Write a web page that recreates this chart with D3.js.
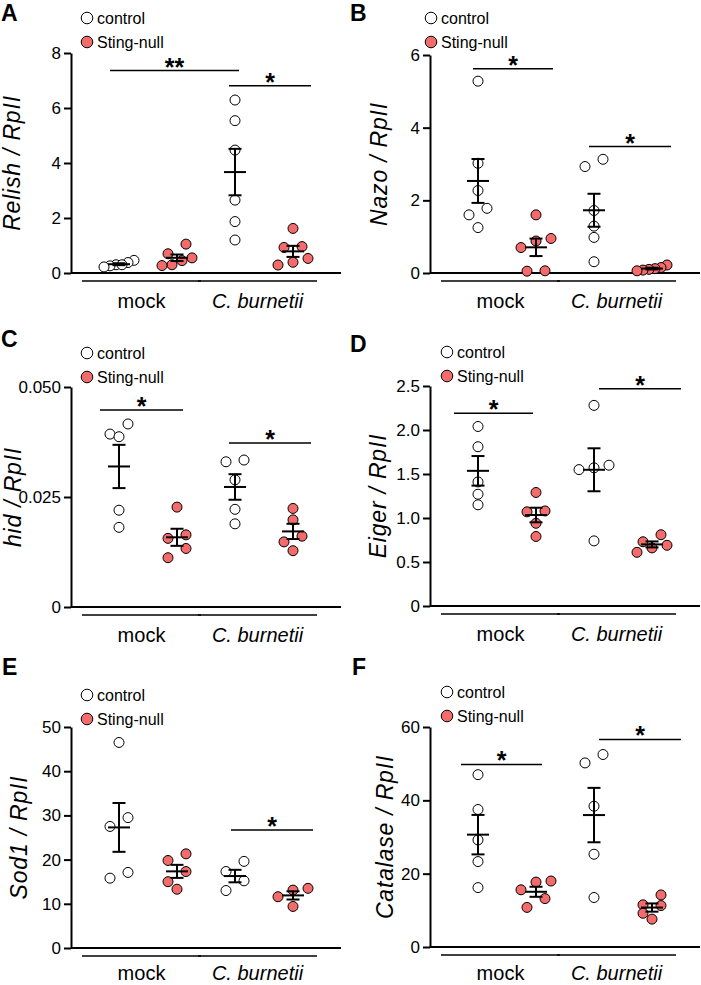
<!DOCTYPE html>
<html>
<head>
<meta charset="utf-8">
<script src="https://cdn.jsdelivr.net/npm/d3@7"></script>
<style>
  body { margin: 0; background: #fff; }
  svg { display: block; }
  text { font-family: "Liberation Sans", Arial, sans-serif; fill: #000; }
</style>
</head>
<body>
<svg></svg>
<script>

// group order: control mock, Sting-null mock, control C. burnetii, Sting-null C. burnetii
const groups = ["control mock", "Sting-null mock", "control C. burnetii", "Sting-null C. burnetii"]
const genotypes = ["control", "Sting-null"]
const infections = ["mock", "C. burnetii"]

const relishValues = [
  [0.46, 0.38, 0.30, 0.26, 0.22, 0.30],
  [1.05, 0.70, 0.55, 0.45, 0.30, 0.27],
  [6.29, 5.54, 4.47, 2.65, 1.87, 1.20],
  [1.62, 0.96, 0.93, 0.53, 0.29, 0.39]
]
const nazoValues = [
  [5.28, 3.02, 2.27, 1.78, 1.60, 1.25],
  [1.60, 0.95, 0.88, 0.70, 0.06, 0.05],
  [3.13, 2.93, 1.72, 1.29, 0.98, 0.31],
  [0.22, 0.15, 0.12, 0.10, 0.08, 0.06]
]
const hidValues = [
  [0.0416, 0.0393, 0.0387, 0.0220, 0.0181],
  [0.0227, 0.0164, 0.0156, 0.0133, 0.0112],
  [0.0334, 0.0330, 0.0289, 0.0222, 0.0189],
  [0.0224, 0.0198, 0.0161, 0.0148, 0.0128]
]
const eigerValues = [
  [2.04, 1.81, 1.41, 1.27, 1.15],
  [1.29, 1.08, 1.07, 0.94, 0.79],
  [2.28, 1.60, 1.57, 1.55, 0.74],
  [0.81, 0.73, 0.69, 0.66, 0.61]
]
const sod1Values = [
  [46.5, 29.5, 27.5, 17.1, 15.8],
  [21.3, 19.8, 17.3, 15.0, 13.3],
  [19.6, 17.3, 15.2, 13.0],
  [13.5, 13.1, 11.6, 9.4]
]
const catalaseValues = [
  [47.0, 37.5, 29.2, 23.3, 16.2],
  [18.0, 17.7, 15.6, 13.2, 10.8],
  [52.5, 50.2, 38.4, 25.3, 13.5],
  [14.2, 11.5, 11.3, 9.2, 7.6]
]

// y axis ticks
const relishTicks = [0, 2, 4, 6, 8]
const nazoTicks = [0, 2, 4, 6]
const hidTicks = [0, 0.025, 0.05]
const hidTickLabels = ["0", "0.025", "0.050"]
const eigerTicks = [0, 0.5, 1, 1.5, 2, 2.5]
const eigerTickLabels = ["0", "0.5", "1.0", "1.5", "2.0", "2.5"]
const sod1Ticks = [0, 10, 20, 30, 40, 50]
const catalaseTicks = [0, 20, 40, 60]

// significance bars: [from group, to group, height, label]
const relishSig = [[0, 2, 7.36, "**"], [2, 3, 6.81, "*"]]
const nazoSig = [[0, 1, 5.62, "*"], [2, 3, 3.48, "*"]]
const hidSig = [[0, 1, 0.0448, "*"], [2, 3, 0.0373, "*"]]
const eigerSig = [[0, 1, 2.19, "*"], [2, 3, 2.47, "*"]]
const sod1Sig = [[2, 3, 26.7, "*"]]
const catalaseSig = [[0, 1, 49.8, "*"], [2, 3, 56.6, "*"]]

// layout per panel
const panels = [
  {letter: "A", gene: "Relish", values: relishValues, ticks: relishTicks, sig: relishSig,
   ax: 71, top: 53, bottom: 273, lx: -51, legX: 87, legY: 18, letX: 1, letY: 21, nudge: [[-3, -14], [0, 0]]},
  {letter: "B", gene: "Nazo", values: nazoValues, ticks: nazoTicks, sig: nazoSig,
   ax: 430, top: 55, bottom: 273, lx: -43, legX: 431, legY: 18, letX: 350, letY: 21, nudge: [[1, -1], [1, 1]]},
  {letter: "C", gene: "hid", values: hidValues, ticks: hidTicks, tickLabels: hidTickLabels, sig: hidSig,
   ax: 71, top: 387, bottom: 607, lx: -50, legX: 87, legY: 353, letX: 1, letY: 347, nudge: [[-13, -12], [0, 0]]},
  {letter: "D", gene: "Eiger", values: eigerValues, ticks: eigerTicks, tickLabels: eigerTickLabels, sig: eigerSig,
   ax: 430, top: 386, bottom: 606, lx: -44, legX: 447, legY: 352, letX: 350, letY: 352, nudge: [[-18, -21], [11, 11]]},
  {letter: "E", gene: "Sod1", values: sod1Values, ticks: sod1Ticks, sig: sod1Sig,
   ax: 71, top: 727, bottom: 948, lx: -44, legX: 87, legY: 695, letX: 2, letY: 675, nudge: [[2, 2]]},
  {letter: "F", gene: "Catalase", values: catalaseValues, ticks: catalaseTicks, sig: catalaseSig,
   ax: 430, top: 727, bottom: 947, lx: -37, legX: 447, legY: 692, letX: 352, letY: 675, nudge: [[-11, -12], [11, 11]]}
]

const fills = ["#ffffff", "#f36b6b"]
const r = 5

var svg = d3.select("svg").attr("width", 701).attr("height", 985)

// Prism-like scatter: points close in y share a row and are spread sideways
function swarm(vals, y) {
  const pts = vals.map(v => ({v: v, py: y(v), dx: 0})).sort((a, b) => a.py - b.py)
  const rows = []
  pts.forEach(p => {
    const row = rows[rows.length - 1]
    if (row && p.py - row[0].py < 2.1 * r) row.push(p)
    else rows.push([p])
  })
  rows.forEach(row => {
    row.sort((a, b) => a.v - b.v)
    const n = row.length
    const step = n > 1 ? Math.min(2 * r + 8, 30 / (n - 1)) : 0
    row.forEach((p, i) => p.dx = (i - (n - 1) / 2) * step)
  })
  return pts
}

panels.forEach(drawPanel)

function drawPanel(p) {
  const g = svg.append("g")

  const y = d3.scaleLinear()
    .domain([0, d3.max(p.ticks)])
    .range([p.bottom, p.top])

  const x = d3.scalePoint()
    .domain(groups)
    .range([p.ax + 48, p.ax + 222])

  // panel letter
  g.append("text")
    .attr("x", p.letX).attr("y", p.letY)
    .attr("font-size", 23).attr("font-weight", "bold")
    .text(p.letter)

  // legend
  const leg = g.append("g")
  genotypes.forEach((name, i) => {
    const ly = p.legY + i * 24
    leg.append("circle")
      .attr("cx", p.legX).attr("cy", ly).attr("r", 5.8)
      .attr("fill", fills[i]).attr("stroke", "#000").attr("stroke-width", 1)
    leg.append("text")
      .attr("x", p.legX + 10).attr("y", ly).attr("dy", "0.35em")
      .attr("font-size", 16)
      .text(name)
  })

  // y axis
  const yAxis = d3.axisLeft(y)
    .tickValues(p.ticks)
    .tickSize(7)
    .tickSizeOuter(0)
    .tickPadding(3)
    .tickFormat((d, i) => p.tickLabels ? p.tickLabels[i] : d)

  const ya = g.append("g")
    .attr("transform", `translate(${p.ax},0)`)
    .call(yAxis)
  ya.selectAll("path, line").attr("stroke", "#000").attr("stroke-width", 2)
  ya.selectAll("text")
    .attr("font-size", 17)
    .attr("font-family", '"Liberation Sans", Arial, sans-serif')
    .attr("fill", "#000")

  // x axis baseline
  g.append("line")
    .attr("x1", p.ax).attr("x2", p.ax + 270)
    .attr("y1", p.bottom).attr("y2", p.bottom)
    .attr("stroke", "#000").attr("stroke-width", 2)

  // y label
  g.append("text")
    .attr("transform", `translate(${p.ax + p.lx},${(p.top + p.bottom) / 2}) rotate(-90)`)
    .attr("text-anchor", "middle")
    .attr("font-size", 23).attr("font-style", "italic")
    .attr("letter-spacing", 0.8)
    .text(p.gene + " / RpII")

  // infection group lines and labels
  infections.forEach((name, i) => {
    const x1 = x(groups[i * 2]) - 37
    const x2 = x(groups[i * 2 + 1]) + 24
    g.append("line")
      .attr("x1", x1).attr("x2", x2)
      .attr("y1", p.bottom + 8).attr("y2", p.bottom + 8)
      .attr("stroke", "#000").attr("stroke-width", 1.6)
    g.append("text")
      .attr("x", (x1 + x2) / 2).attr("y", Math.min(p.bottom + 35, 980))
      .attr("text-anchor", "middle")
      .attr("font-size", 20)
      .attr("font-style", i === 1 ? "italic" : "normal")
      .text(name)
  })

  // points
  p.values.forEach((vals, gi) => {
    const cx = x(groups[gi])
    g.append("g")
      .selectAll("circle")
      .data(swarm(vals, y))
      .join("circle")
      .attr("cx", d => cx + d.dx)
      .attr("cy", d => d.py)
      .attr("r", r)
      .attr("fill", fills[gi % 2])
      .attr("stroke", "#000")
      .attr("stroke-width", 1)

    // mean +/- SEM
    const m = d3.mean(vals)
    const sem = d3.deviation(vals) / Math.sqrt(vals.length)
    const eb = g.append("g").attr("stroke", "#000").attr("stroke-width", 2)
    eb.append("line").attr("x1", cx).attr("x2", cx).attr("y1", y(m + sem)).attr("y2", y(m - sem))
    eb.append("line").attr("x1", cx - 11).attr("x2", cx + 11).attr("y1", y(m)).attr("y2", y(m))
    eb.append("line").attr("x1", cx - 6.5).attr("x2", cx + 6.5).attr("y1", y(m + sem)).attr("y2", y(m + sem))
    eb.append("line").attr("x1", cx - 6.5).attr("x2", cx + 6.5).attr("y1", y(m - sem)).attr("y2", y(m - sem))
  })

  // significance
  p.sig.forEach((s, i) => {
    const x1 = x(groups[s[0]]) - 6 + p.nudge[i][0]
    const x2 = x(groups[s[1]]) + 18 + p.nudge[i][1]
    const sy = y(s[2])
    g.append("line")
      .attr("x1", x1).attr("x2", x2).attr("y1", sy).attr("y2", sy)
      .attr("stroke", "#000").attr("stroke-width", 1.5)
    g.append("text")
      .attr("x", (x1 + x2) / 2).attr("y", sy + 5)
      .attr("text-anchor", "middle")
      .attr("font-size", 25).attr("font-weight", "bold")
      .text(s[3])
  })
}

</script>
</body>
</html>
